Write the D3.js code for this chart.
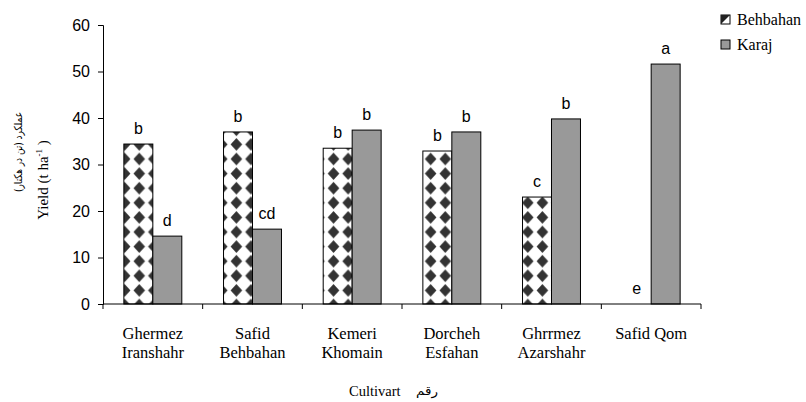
<!DOCTYPE html>
<html>
<head>
<meta charset="utf-8">
<script src="https://d3js.org/d3.v7.min.js"></script>
<style>
  body { margin: 0; background: #fff; }
  svg { display: block; }
  .serif { font-family: "Liberation Serif", "Times New Roman", Times, serif; }
</style>
</head>
<body>
<div id="chart"></div>
<script>
// data
const cultivars = [
  ["Ghermez", "Iranshahr"],
  ["Safid", "Behbahan"],
  ["Kemeri", "Khomain"],
  ["Dorcheh", "Esfahan"],
  ["Ghrrmez", "Azarshahr"],
  ["Safid Qom", ""]
];
const series = ["Behbahan", "Karaj"];
const behbahan = [34.4, 37.0, 33.5, 32.9, 23.0, 0];
const karaj = [14.6, 16.1, 37.4, 37.0, 39.8, 51.6];
const behbahanLetters = ["b", "b", "b", "b", "c", "e"];
const karajLetters = ["d", "cd", "b", "b", "b", "a"];
const yTicks = [0, 10, 20, 30, 40, 50, 60];

const SANS = "'Liberation Sans', Arial, sans-serif";
const ARABIC = "'DejaVu Sans', 'Noto Sans', sans-serif";

const width = 806, height = 402;
const x0 = 103, x1 = 701, yBottom = 304, yTop = 25;

const svg = d3.select("#chart").append("svg")
  .attr("width", width).attr("height", height);

const x = d3.scaleBand().domain(d3.range(cultivars.length)).range([x0, x1]).padding(0);
const xs = d3.scaleBand().domain(series).range([0, x.bandwidth()])
  .paddingInner(0).paddingOuter(0.72);
const y = d3.scaleLinear().domain([0, 60]).range([yBottom, yTop]);

// diamond pattern, one per group so it lines up with each bar
const defs = svg.append("defs");
const period = 14.6;
cultivars.forEach((c, i) => {
  const p = defs.append("pattern")
    .attr("id", "dia" + i)
    .attr("patternUnits", "userSpaceOnUse")
    .attr("x", x(i) + xs("Behbahan") - period / 2)
    .attr("y", yBottom - period / 2 + 1)
    .attr("width", period).attr("height", period);
  p.append("rect").attr("width", period).attr("height", period).attr("fill", "#fff");
  const h = period / 2, rx = 5.8, ry = 6.3;
  p.append("path")
    .attr("d", `M${h},${h - ry}L${h + rx},${h}L${h},${h + ry}L${h - rx},${h}Z`)
    .attr("fill", "#333");
});

const data = cultivars.map((c, i) => ({
  i,
  values: [
    { s: "Behbahan", v: behbahan[i], l: behbahanLetters[i] },
    { s: "Karaj", v: karaj[i], l: karajLetters[i] }
  ]
}));

const groups = svg.selectAll("g.grp").data(data).enter().append("g")
  .attr("class", "grp")
  .attr("transform", d => `translate(${x(d.i)},0)`);

groups.selectAll("rect.bar")
  .data(d => d.values.map(v => ({ ...v, i: d.i })).filter(v => v.v > 0))
  .enter().append("rect")
  .attr("class", "bar")
  .attr("x", d => xs(d.s))
  .attr("y", d => y(d.v))
  .attr("width", xs.bandwidth())
  .attr("height", d => yBottom - y(d.v))
  .attr("fill", d => d.s === "Karaj" ? "#999999" : `url(#dia${d.i})`)
  .attr("stroke", "#000")
  .attr("stroke-width", 1);

groups.selectAll("text.lett")
  .data(d => d.values)
  .enter().append("text")
  .attr("class", "lett")
  .attr("x", d => xs(d.s) + xs.bandwidth() / 2)
  .attr("y", d => y(d.v) - 10)
  .attr("text-anchor", "middle")
  .style("font-family", SANS)
  .style("font-size", "16px")
  .text(d => d.l);

// axes
const yAxis = d3.axisLeft(y).tickValues(yTicks).tickSize(5).tickPadding(8);
const gy = svg.append("g").attr("transform", `translate(${x0},0)`).call(yAxis);
gy.selectAll("text")
  .style("font-family", SANS)
  .style("font-size", "16px")
  .attr("fill", "#000");
gy.select(".domain").attr("stroke", "#000");

const gx = svg.append("g").attr("transform", `translate(0,${yBottom})`);
gx.append("line").attr("x1", x0).attr("x2", x1).attr("stroke", "#000");
gx.selectAll("line.tk").data(d3.range(cultivars.length + 1)).enter().append("line")
  .attr("class", "tk")
  .attr("x1", d => x0 + d * x.step()).attr("x2", d => x0 + d * x.step())
  .attr("y1", 0).attr("y2", 5).attr("stroke", "#000");

const labels = svg.append("g")
  .attr("class", "serif")
  .style("font-size", "16.5px");
cultivars.forEach((c, i) => {
  const cx = x(i) + x.bandwidth() / 2;
  labels.append("text").attr("x", cx).attr("y", 339).attr("text-anchor", "middle").text(c[0]);
  if (c[1]) labels.append("text").attr("x", cx).attr("y", 358).attr("text-anchor", "middle").text(c[1]);
});

// axis titles
svg.append("text")
  .attr("class", "serif")
  .attr("x", 349).attr("y", 396)
  .style("font-size", "14.5px")
  .text("Cultivart");
svg.append("text")
  .attr("x", 416).attr("y", 395)
  .style("font-family", ARABIC)
  .style("font-size", "12px")
  .attr("textLength", 22)
  .attr("lengthAdjust", "spacingAndGlyphs")
  .text("رقم");

const yt = svg.append("text")
  .attr("class", "serif")
  .attr("transform", "translate(48,180) rotate(-90)")
  .attr("text-anchor", "middle")
  .style("font-size", "15px");
yt.append("tspan").text("Yield (t ha");
yt.append("tspan").attr("dy", -6).style("font-size", "9px").text("-1");
yt.append("tspan").attr("dy", 6).text(" )");

svg.append("text")
  .attr("transform", "translate(22,152) rotate(-90)")
  .attr("text-anchor", "middle")
  .style("font-family", ARABIC)
  .style("font-size", "11px")
  .attr("textLength", 80)
  .attr("lengthAdjust", "spacingAndGlyphs")
  .text("عملکرد (تن در هکتار)");

// legend
const leg = svg.append("g")
  .attr("class", "serif")
  .style("font-size", "16px");
series.forEach((s, k) => {
  const ly = 15 + k * 25;
  if (s === "Behbahan") {
    leg.append("rect").attr("x", 721).attr("y", ly).attr("width", 9).attr("height", 9)
      .attr("fill", "#fff").attr("stroke", "#000");
    leg.append("path").attr("d", `M721,${ly}L730,${ly}L721,${ly + 9}Z`).attr("fill", "#222");
  } else {
    leg.append("rect").attr("x", 721).attr("y", ly).attr("width", 9).attr("height", 9)
      .attr("fill", "#999").attr("stroke", "#000");
  }
  leg.append("text").attr("x", 737).attr("y", ly + 10).text(s);
});
</script>
</body>
</html>
